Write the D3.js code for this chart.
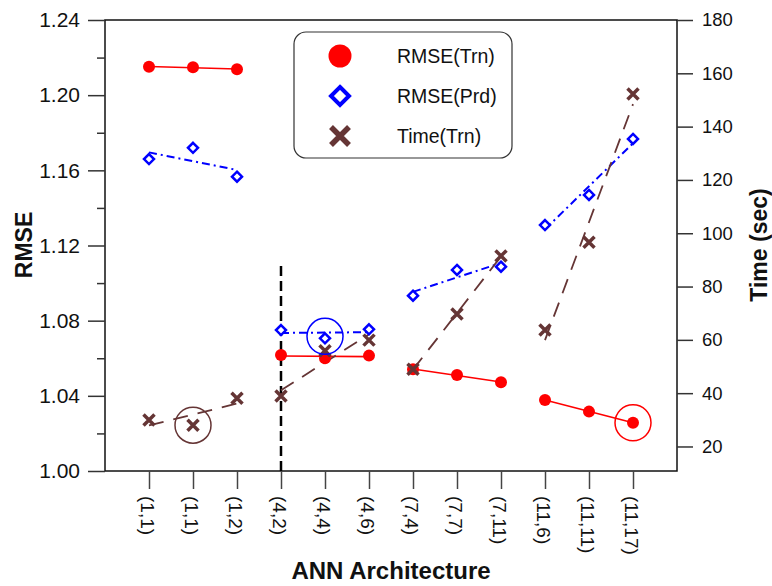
<!DOCTYPE html>
<html>
<head>
<meta charset="utf-8">
<script src="https://cdn.jsdelivr.net/npm/d3@7"></script>
<style>
  body { margin: 0; background: #fff; }
  text { font-family: Arial, "Liberation Sans", sans-serif; fill: #111; }
</style>
</head>
<body>
<svg id="chart" width="772" height="586"></svg>
<script>
// ANN architectures, in plotting order
const categories = ["(1,1)", "(1,1)", "(1,2)", "(4,2)", "(4,4)", "(4,6)",
                    "(7,4)", "(7,7)", "(7,11)", "(11,6)", "(11,11)", "(11,17)"];
// groups of architectures fitted with a trend line each
const groups = [[0, 1, 2], [3, 4, 5], [6, 7, 8], [9, 10, 11]];

const rmseTrn = [1.2151, 1.2148, 1.2138, 1.0617, 1.0600, 1.0614,
                 1.0541, 1.0511, 1.0472, 1.0378, 1.0316, 1.0257];
const rmsePrd = [1.1660, 1.1720, 1.1566, 1.0750, 1.0706, 1.0754,
                 1.0933, 1.1070, 1.1087, 1.1309, 1.1469, 1.1767];
const timeTrn = [29.9, 28.0, 38.1, 38.9, 55.9, 59.9,
                 49.0, 69.7, 91.5, 63.7, 96.6, 152.2];

const leftTicks = [1.00, 1.04, 1.08, 1.12, 1.16, 1.20, 1.24];
const leftMinor = [1.02, 1.06, 1.10, 1.14, 1.18, 1.22];
const rightTicks = [20, 40, 60, 80, 100, 120, 140, 160, 180];

// highlighted points (index into the series)
const highlightTime = 1, highlightPrd = 4, highlightTrn = 11;
const dividerIndex = 3, dividerTop = 1.11;

const svg = d3.select("#chart");
const plot = { left: 105, right: 677, top: 20, bottom: 471 };

const x = d3.scaleLinear().domain([0, categories.length + 1]).range([plot.left, plot.right]);
const yL = d3.scaleLinear().domain([1.00, 1.24]).range([plot.bottom, plot.top]);
const yR = d3.scaleLinear().domain([10.8, 180]).range([plot.bottom, plot.top]);

const colTrn = "#ff0000", colPrd = "#0000ff", colTime = "#653535";

// frame
svg.append("rect")
    .attr("x", plot.left).attr("y", plot.top)
    .attr("width", plot.right - plot.left).attr("height", plot.bottom - plot.top)
    .attr("fill", "none").attr("stroke", "#111").attr("stroke-width", 1.5);

// left axis
const gL = svg.append("g").attr("transform", `translate(${plot.left},0)`);
gL.call(d3.axisLeft(yL).tickValues(leftTicks).tickSize(17).tickPadding(8)
    .tickFormat(d3.format(".2f")));
gL.append("g").call(d3.axisLeft(yL).tickValues(leftMinor).tickSize(8).tickFormat(""));
gL.selectAll(".domain").remove();
gL.selectAll("line").attr("stroke", "#333").attr("stroke-width", 1.5);
gL.selectAll("text").style("font-size", "21px").attr("fill", "#111");

// right axis
const gR = svg.append("g").attr("transform", `translate(${plot.right},0)`);
gR.call(d3.axisRight(yR).tickValues(rightTicks).tickSize(16).tickPadding(9));
gR.select(".domain").remove();
gR.selectAll("line").attr("stroke", "#333").attr("stroke-width", 1.5);
gR.selectAll("text").style("font-size", "18.5px").attr("fill", "#111");

// bottom axis
const gB = svg.append("g").attr("transform", `translate(0,${plot.bottom})`);
gB.call(d3.axisBottom(x).tickValues(d3.range(1, categories.length + 1))
    .tickSize(18).tickFormat(""));
gB.select(".domain").remove();
gB.selectAll("line").attr("stroke", "#444").attr("stroke-width", 1.5);
gB.selectAll(".xlab")
    .data(categories)
    .join("text")
    .attr("class", "xlab")
    .attr("transform", (d, i) => `translate(${x(i + 1) - 8},25) rotate(90)`)
    .attr("text-anchor", "start")
    .style("font-size", "19px")
    .text(d => d);

// axis titles
svg.append("text")
    .attr("transform", "translate(32,245) rotate(-90)")
    .attr("text-anchor", "middle")
    .style("font-size", "23px").style("font-weight", "bold")
    .text("RMSE");
svg.append("text")
    .attr("transform", "translate(767,245) rotate(-90)")
    .attr("text-anchor", "middle")
    .style("font-size", "23px").style("font-weight", "bold")
    .text("Time (sec)");
svg.append("text")
    .attr("x", 391).attr("y", 579)
    .attr("text-anchor", "middle")
    .style("font-size", "24px").style("font-weight", "bold")
    .text("ANN Architecture");

// dashed divider
svg.append("line")
    .attr("x1", x(dividerIndex + 1)).attr("x2", x(dividerIndex + 1))
    .attr("y1", yL(1.00)).attr("y2", yL(dividerTop))
    .attr("stroke", "#000").attr("stroke-width", 2.5)
    .attr("stroke-dasharray", "10,5");

// least-squares trend line for one group of one series
function fitLine(values, idx, yScale) {
    const pts = idx.map(i => [x(i + 1), yScale(values[i])]);
    const mx = d3.mean(pts, p => p[0]), my = d3.mean(pts, p => p[1]);
    const slope = d3.sum(pts, p => (p[0] - mx) * (p[1] - my)) /
                  d3.sum(pts, p => (p[0] - mx) ** 2);
    const x0 = pts[0][0], x1 = pts[pts.length - 1][0];
    return [[x0, my + slope * (x0 - mx)], [x1, my + slope * (x1 - mx)]];
}

const lineGen = d3.line();
function drawTrends(values, yScale, color, width, dash) {
    svg.append("g").selectAll("path")
        .data(groups)
        .join("path")
        .attr("d", g => lineGen(fitLine(values, g, yScale)))
        .attr("fill", "none")
        .attr("stroke", color)
        .attr("stroke-width", width)
        .attr("stroke-dasharray", dash);
}

drawTrends(rmseTrn, yL, colTrn, 1.6, null);
drawTrends(rmsePrd, yL, colPrd, 2, "8,4,2,4");
drawTrends(timeTrn, yR, colTime, 1.8, "15,10");

function diamond(s) {
    return `M0,${-s}L${s},0L0,${s}L${-s},0Z`;
}
function cross(s) {
    return `M${-s},${-s}L${s},${s}M${-s},${s}L${s},${-s}`;
}

// markers
svg.append("g").selectAll("circle")
    .data(rmseTrn)
    .join("circle")
    .attr("cx", (d, i) => x(i + 1))
    .attr("cy", d => yL(d))
    .attr("r", 6)
    .attr("fill", colTrn);

svg.append("g").selectAll("path")
    .data(timeTrn)
    .join("path")
    .attr("transform", (d, i) => `translate(${x(i + 1)},${yR(d)})`)
    .attr("d", cross(5.5))
    .attr("stroke", colTime)
    .attr("stroke-width", 3.5)
    .attr("fill", "none");

svg.append("g").selectAll("path")
    .data(rmsePrd)
    .join("path")
    .attr("transform", (d, i) => `translate(${x(i + 1)},${yL(d)})`)
    .attr("d", diamond(5))
    .attr("stroke", colPrd)
    .attr("stroke-width", 2.5)
    .attr("fill", "#fff");

// highlight rings
const rings = [
    { cx: x(highlightTime + 1), cy: yR(timeTrn[highlightTime]), color: colTime },
    { cx: x(highlightPrd + 1), cy: yL(rmsePrd[highlightPrd]) - 2, color: colPrd },
    { cx: x(highlightTrn + 1), cy: yL(rmseTrn[highlightTrn]), color: colTrn }
];
svg.append("g").selectAll("circle")
    .data(rings)
    .join("circle")
    .attr("cx", d => d.cx).attr("cy", d => d.cy)
    .attr("r", 18)
    .attr("fill", "none")
    .attr("stroke", d => d.color)
    .attr("stroke-width", 1.5);

// legend
const legend = svg.append("g").attr("transform", "translate(294,32)");
legend.append("rect")
    .attr("width", 218).attr("height", 126).attr("rx", 12)
    .attr("fill", "#fff").attr("stroke", "#333").attr("stroke-width", 1.2);
const legendItems = ["RMSE(Trn)", "RMSE(Prd)", "Time(Trn)"];
const items = legend.selectAll(".item")
    .data(legendItems)
    .join("g")
    .attr("class", "item")
    .attr("transform", (d, i) => `translate(46,${24 + i * 40})`);
items.append("text")
    .attr("x", 57).attr("dy", "0.35em")
    .style("font-size", "19.5px")
    .text(d => d);
items.filter((d, i) => i === 0).append("circle")
    .attr("r", 11.5).attr("fill", colTrn);
items.filter((d, i) => i === 1).append("path")
    .attr("d", diamond(9)).attr("fill", "#fff")
    .attr("stroke", colPrd).attr("stroke-width", 4);
items.filter((d, i) => i === 2).append("path")
    .attr("d", cross(9)).attr("fill", "none")
    .attr("stroke", colTime).attr("stroke-width", 5.5);
</script>
</body>
</html>
